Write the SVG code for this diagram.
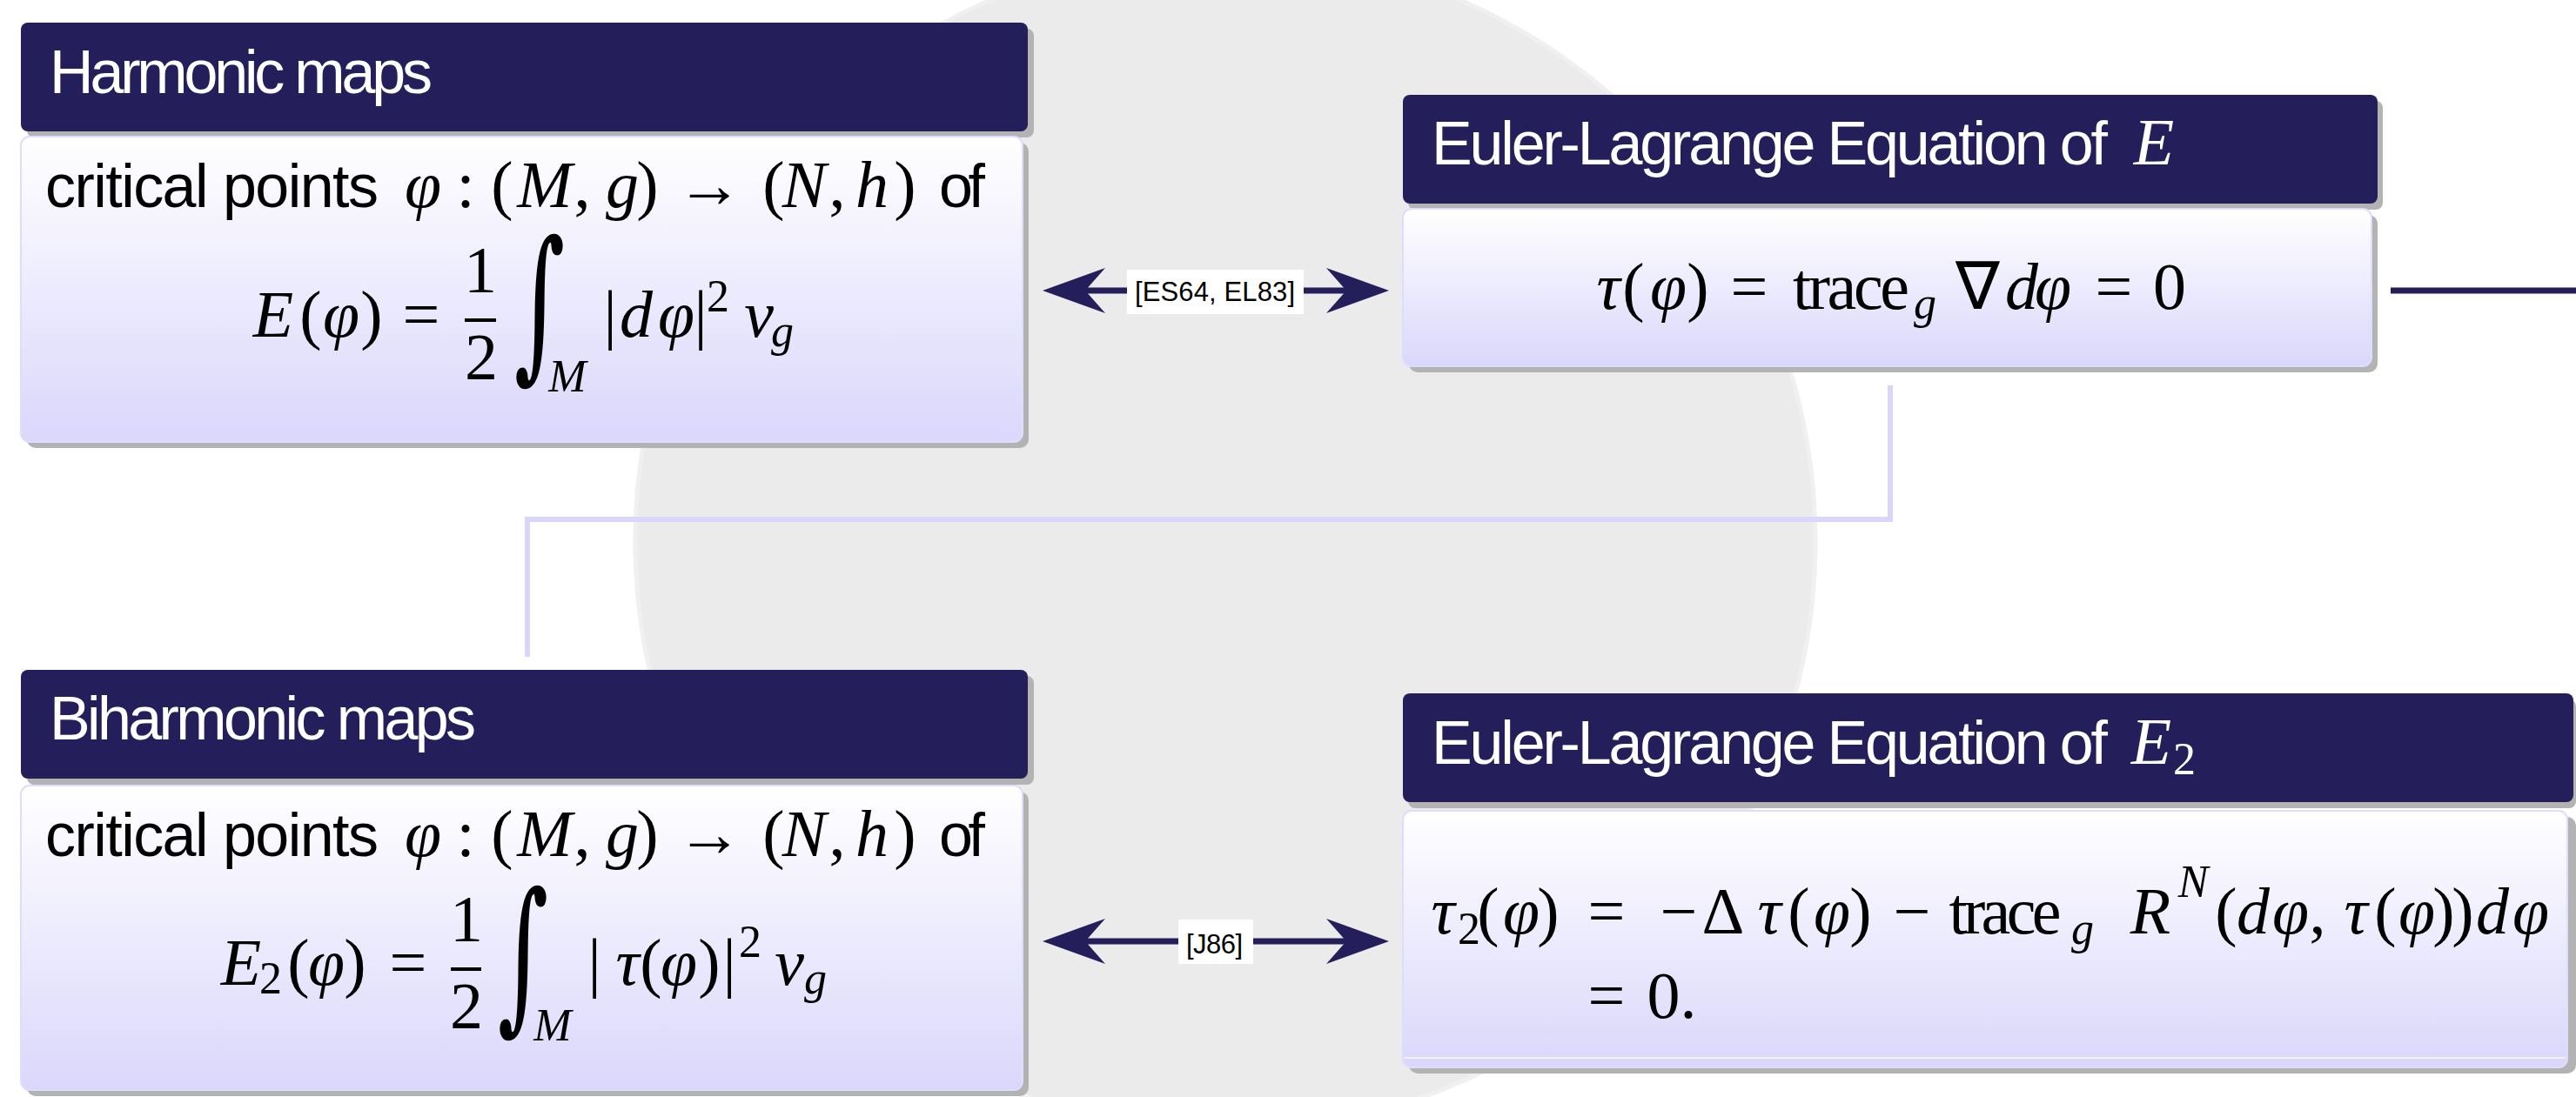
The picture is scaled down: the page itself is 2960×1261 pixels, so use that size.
<svg xmlns="http://www.w3.org/2000/svg" width="2960" height="1261" viewBox="0 0 2960 1261">
<style>
.t{font-family:'Liberation Sans',Arial,sans-serif;font-size:70px;fill:#ffffff}
.s{font-family:'Liberation Sans',Arial,sans-serif;font-size:70px;fill:#000000}
.m{font-family:'Liberation Serif','Times New Roman',serif;font-style:italic;font-size:76px;fill:#000;text-anchor:middle}
.r{font-family:'Liberation Serif','Times New Roman',serif;font-size:76px;fill:#000;text-anchor:middle}
.int{font-family:'DejaVu Serif',serif;font-size:150px;fill:#000;text-anchor:middle}
.sub{font-size:52px}
.w{fill:#ffffff}
.lbl{font-family:'Liberation Sans',Arial,sans-serif;font-size:31px;fill:#000}
.head{fill:#241f5b}
.shadow{fill:#b3b3b3}
.body{fill:url(#bodyGrad);stroke:#dedcff;stroke-width:2}
.conn{stroke:#241f5b;stroke-width:7;fill:none}
.soft{stroke:#d8d6fc;stroke-width:6;fill:none}
</style>
<defs>
<linearGradient id="bodyGrad" x1="0" y1="0" x2="0" y2="1">
<stop offset="0" stop-color="#ffffff"/>
<stop offset="1" stop-color="#dad7fb"/>
</linearGradient>
<marker id="arr" markerUnits="userSpaceOnUse" viewBox="-30 -30 90 60" markerWidth="90" markerHeight="60" refX="0" refY="0" orient="auto-start-reverse">
<path d="M49,0 L-23,-26 L0,0 L-23,26 Z" fill="#241f5b"/>
</marker>
</defs>
<rect width="2960" height="1261" fill="#ffffff"/>
<circle cx="1408" cy="622" r="678" fill="#ebebeb" stroke="#f0f0f0" stroke-width="5"/>

<g id="connectors">
<polyline class="soft" points="2172,443 2172,597 606,597 606,755"/>
<line class="conn" x1="1247" y1="334" x2="1547" y2="334" marker-start="url(#arr)" marker-end="url(#arr)"/>
<rect x="1295" y="310" width="203" height="51" fill="#ffffff"/>
<text class="lbl" x="1304" y="346" textLength="184">[ES64, EL83]</text>
<line class="conn" x1="1247" y1="1082" x2="1547" y2="1082" marker-start="url(#arr)" marker-end="url(#arr)"/>
<rect x="1354" y="1057" width="86" height="51" fill="#ffffff"/>
<text class="lbl" x="1363" y="1096" textLength="65">[J86]</text>
<line class="conn" x1="2747" y1="334" x2="2960" y2="334"/>
</g>

<g id="harmonic">
<rect class="shadow" x="31" y="33" width="1157" height="125" rx="8"/>
<rect class="head" x="24" y="26" width="1157" height="125" rx="8"/>
<text class="t" x="57" y="107" textLength="440">Harmonic maps</text>
<rect class="shadow" x="31" y="164" width="1151" height="351" rx="10"/>
<rect class="body" x="24" y="157" width="1151" height="351" rx="10"/>
<text class="s" x="52" y="238" textLength="383">critical points</text>
<text class="m" x="486" y="238">φ</text>
<text class="r" x="535" y="238">:</text>
<text class="r" x="577" y="238">(</text>
<text class="m" x="626" y="238">M</text>
<text class="r" x="669" y="238">,</text>
<text class="m" x="715" y="238">g</text>
<text class="r" x="744" y="238">)</text>
<text class="r" x="815" y="238">→</text>
<text class="r" x="889" y="238">(</text>
<text class="m" x="924" y="238">N</text>
<text class="r" x="962" y="238">,</text>
<text class="m" x="1002" y="238">h</text>
<text class="r" x="1040" y="238">)</text>
<text class="s" x="1079" y="238" textLength="53">of</text>
<text class="m" x="314" y="387">E</text>
<text class="r" x="357" y="387">(</text>
<text class="m" x="392" y="387">φ</text>
<text class="r" x="427" y="387">)</text>
<text class="r" x="484" y="387">=</text>
<text class="r" x="552" y="336">1</text>
<rect x="534" y="366" width="36" height="4" fill="#000"/>
<text class="r" x="553" y="436">2</text>
<text class="int" transform="translate(620,413) scale(0.75,1.27)">∫</text>
<text class="m sub" x="652" y="450">M</text>
<text class="r" x="701" y="387">|</text>
<text class="m" x="731" y="387">d</text>
<text class="m" x="777" y="387">φ</text>
<text class="r" x="805" y="387">|</text>
<text class="r sub" x="825" y="358">2</text>
<text class="m" x="872" y="387">v</text>
<text class="m sub" x="899" y="398">g</text>
</g>

<g id="euler-lagrange-e">
<rect class="shadow" x="1618" y="116" width="1120" height="125" rx="8"/>
<rect class="head" x="1612" y="109" width="1120" height="125" rx="8"/>
<text class="t" x="1645" y="189" textLength="777">Euler-Lagrange Equation of</text>
<text class="m w" x="2475" y="189">E</text>
<rect class="shadow" x="1619" y="247" width="1113" height="181" rx="10"/>
<rect class="body" x="1612" y="240" width="1113" height="181" rx="10"/>
<text class="m" x="1848" y="355">τ</text>
<text class="r" x="1877" y="355">(</text>
<text class="m" x="1917" y="355">φ</text>
<text class="r" x="1951" y="355">)</text>
<text class="r" x="2010" y="355">=</text>
<text class="r" x="2127" y="355" textLength="134">trace</text>
<text class="m sub" x="2212" y="366">g</text>
<text class="r" x="2272" y="355">∇</text>
<text class="m" x="2323" y="355">d</text>
<text class="m" x="2359" y="355">φ</text>
<text class="r" x="2429" y="355">=</text>
<text class="r" x="2493" y="355">0</text>
</g>

<g id="biharmonic">
<rect class="shadow" x="31" y="777" width="1157" height="125" rx="8"/>
<rect class="head" x="24" y="770" width="1157" height="125" rx="8"/>
<text class="t" x="57" y="850" textLength="490">Biharmonic maps</text>
<rect class="shadow" x="31" y="910" width="1151" height="350" rx="10"/>
<rect class="body" x="24" y="903" width="1151" height="350" rx="10"/>
<text class="s" x="52" y="984" textLength="383">critical points</text>
<text class="m" x="486" y="984">φ</text>
<text class="r" x="535" y="984">:</text>
<text class="r" x="577" y="984">(</text>
<text class="m" x="626" y="984">M</text>
<text class="r" x="669" y="984">,</text>
<text class="m" x="715" y="984">g</text>
<text class="r" x="744" y="984">)</text>
<text class="r" x="815" y="984">→</text>
<text class="r" x="889" y="984">(</text>
<text class="m" x="924" y="984">N</text>
<text class="r" x="962" y="984">,</text>
<text class="m" x="1002" y="984">h</text>
<text class="r" x="1040" y="984">)</text>
<text class="s" x="1079" y="984" textLength="53">of</text>
<text class="m" x="277" y="1132">E</text>
<text class="r sub" x="311" y="1142">2</text>
<text class="r" x="343" y="1132">(</text>
<text class="m" x="375" y="1132">φ</text>
<text class="r" x="408" y="1132">)</text>
<text class="r" x="469" y="1132">=</text>
<text class="r" x="536" y="1082">1</text>
<rect x="518" y="1112" width="35" height="4" fill="#000"/>
<text class="r" x="536" y="1182">2</text>
<text class="int" transform="translate(601,1162) scale(0.75,1.27)">∫</text>
<text class="m sub" x="635" y="1196">M</text>
<text class="r" x="683" y="1132">|</text>
<text class="m" x="721" y="1132">τ</text>
<text class="r" x="748" y="1132">(</text>
<text class="m" x="780" y="1132">φ</text>
<text class="r" x="815" y="1132">)</text>
<text class="r" x="838" y="1132">|</text>
<text class="r sub" x="862" y="1100">2</text>
<text class="m" x="907" y="1132">v</text>
<text class="m sub" x="937" y="1142">g</text>
</g>

<g id="euler-lagrange-e2">
<rect class="shadow" x="1618" y="804" width="1342" height="125" rx="8"/>
<rect class="head" x="1612" y="797" width="1345" height="125" rx="8"/>
<text class="t" x="1645" y="878" textLength="777">Euler-Lagrange Equation of</text>
<text class="m w" x="2472" y="878">E</text>
<text class="r sub w" x="2510" y="890">2</text>
<rect class="shadow" x="1619" y="939" width="1341" height="295" rx="10"/>
<rect class="body" x="1612" y="932" width="1338" height="295" rx="10"/>
<line x1="1614" y1="1216" x2="2948" y2="1216" stroke="#f3f2ff" stroke-width="2"/>
<text class="m" x="1658" y="1073">τ</text>
<text class="r sub" x="1688" y="1085">2</text>
<text class="r" x="1710" y="1073">(</text>
<text class="m" x="1748" y="1073">φ</text>
<text class="r" x="1779" y="1073">)</text>
<text class="r" x="1846" y="1073">=</text>
<text class="r" x="1929" y="1073">−</text>
<text class="r" x="1980" y="1073">Δ</text>
<text class="m" x="2033" y="1073">τ</text>
<text class="r" x="2067" y="1073">(</text>
<text class="m" x="2105" y="1073">φ</text>
<text class="r" x="2138" y="1073">)</text>
<text class="r" x="2197" y="1073">−</text>
<text class="r" x="2304" y="1073" textLength="129">trace</text>
<text class="m sub" x="2393" y="1085">g</text>
<text class="m" x="2471" y="1073">R</text>
<text class="m sub" x="2520" y="1031">N</text>
<text class="r" x="2558" y="1073">(</text>
<text class="m" x="2589" y="1073">d</text>
<text class="m" x="2632" y="1073">φ</text>
<text class="r" x="2663" y="1073">,</text>
<text class="m" x="2707" y="1073">τ</text>
<text class="r" x="2741" y="1073">(</text>
<text class="m" x="2777" y="1073">φ</text>
<text class="r" x="2808" y="1073">)</text>
<text class="r" x="2830" y="1073">)</text>
<text class="m" x="2864" y="1073">d</text>
<text class="m" x="2908" y="1073">φ</text>
<text class="r" x="1846" y="1170">=</text>
<text class="r" x="1921" y="1170">0.</text>
</g>
</svg>
